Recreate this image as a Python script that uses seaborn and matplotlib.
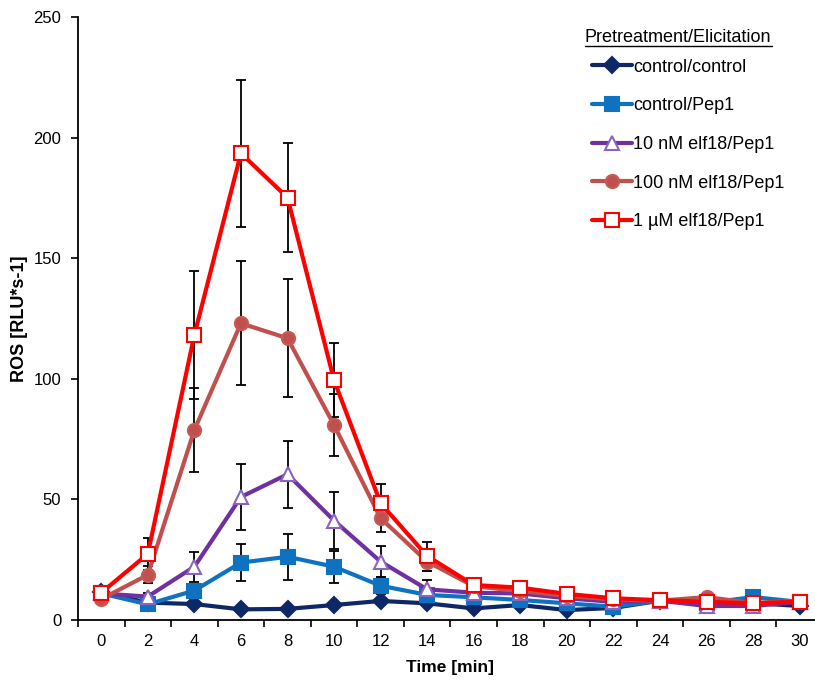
import matplotlib
matplotlib.use("Agg")
import matplotlib.pyplot as plt
from matplotlib.lines import Line2D
from matplotlib.transforms import IdentityTransform
import numpy as np
import seaborn as sns

# ROS burst time course (mean +/- error) for the pretreatment/elicitation combinations
time_min = [0, 2, 4, 6, 8, 10, 12, 14, 16, 18, 20, 22, 24, 26, 28, 30]

control_control = [11.5, 7.2, 6.6, 4.4, 4.6, 6.2, 7.9, 6.9, 4.8, 6.2, 4.1, 5.0, 8.0, 7.0, 7.0, 5.8]
control_pep1 = [11.0, 6.5, 12.2, 23.8, 26.2, 22.1, 14.2, 10.4, 9.4, 8.3, 6.9, 5.5, 8.0, 7.0, 9.5, 7.5]
elf10_pep1 = [11.0, 9.7, 22.1, 51.0, 60.4, 41.2, 24.2, 12.7, 11.3, 11.0, 9.0, 7.5, 8.0, 5.8, 5.8, 7.5]
elf100_pep1 = [8.7, 18.7, 78.8, 123.0, 116.8, 80.8, 42.2, 24.2, 14.0, 12.0, 10.0, 8.5, 8.0, 9.5, 7.0, 8.0]
elf1000_pep1 = [11.3, 27.4, 118.2, 193.5, 175.1, 99.4, 48.4, 26.5, 14.5, 13.4, 10.8, 9.0, 8.2, 7.5, 6.9, 7.6]

err_control_control = [0.8, 0.8, 1.0, 0.9, 0.9, 1.0, 1.0, 0.9, 0.8, 0.8, 0.8, 0.8, 0.8, 0.8, 0.8, 0.8]
err_control_pep1 = [1.0, 1.0, 2.5, 7.7, 9.6, 6.6, 3.5, 2.0, 1.5, 1.0, 1.0, 1.0, 1.0, 1.0, 1.0, 1.0]
err_elf10_pep1 = [1.0, 1.5, 6.2, 13.5, 13.8, 11.8, 6.5, 3.9, 2.0, 1.5, 1.0, 1.0, 1.0, 1.0, 1.0, 1.0]
err_elf100_pep1 = [1.0, 3.5, 17.5, 25.7, 24.4, 12.9, 5.9, 4.0, 2.0, 1.5, 1.0, 1.0, 1.0, 1.5, 1.0, 1.0]
err_elf1000_pep1 = [1.0, 6.5, 26.5, 30.5, 22.5, 15.4, 7.9, 6.0, 2.5, 2.0, 1.5, 1.0, 1.0, 1.0, 1.0, 1.0]

legend_title = "Pretreatment/Elicitation"
labels = ["control/control", "control/Pep1", "10 nM elf18/Pep1",
          "100 nM elf18/Pep1", "1 \u00b5M elf18/Pep1"]
series = [control_control, control_pep1, elf10_pep1, elf100_pep1, elf1000_pep1]
errors = [err_control_control, err_control_pep1, err_elf10_pep1,
          err_elf100_pep1, err_elf1000_pep1]

line_colors = ["#0E2766", "#0E72C0", "#7030A0", "#C0504D", "#FF0000"]
markers = ["D", "s", "^", "o", "s"]
face_colors = ["#0E2766", "#0E72C0", "white", "#C0504D", "white"]
edge_colors = ["#0E2766", "#0E72C0", "#8A64C0", "#C55A57", "#FF0000"]
marker_sizes = [8.5, 10, 10, 9.5, 10]

sns.set_style("white")
plt.rcParams["font.family"] = ["Liberation Sans", "DejaVu Sans"]
plt.rcParams.update({"text.color": "black", "axes.labelcolor": "black",
                     "xtick.color": "black", "ytick.color": "black"})

fig = plt.figure(figsize=(8.15, 6.81), dpi=100)
ax = fig.add_axes([0.0957, 0.0896, 0.914, 0.8855])

# error bars sit underneath the lines and markers
for vals, errs in zip(series, errors):
    ax.errorbar(time_min, vals, yerr=errs, fmt="none", ecolor="black",
                elinewidth=1.3, capsize=3.3, capthick=1.3, zorder=1)

for i, (vals, lab) in enumerate(zip(series, labels)):
    sns.lineplot(x=time_min, y=vals, ax=ax, color=line_colors[i], linewidth=3,
                 marker=markers[i], markersize=marker_sizes[i],
                 markerfacecolor=face_colors[i], markeredgecolor=edge_colors[i],
                 markeredgewidth=1.5, label=lab, zorder=2 + i)

ax.set_xlim(-1, 31)
ax.set_ylim(0, 250)
ax.set_xticks(time_min)
ax.set_xticks(np.arange(-1, 32, 2), minor=True)
ax.set_yticks([0, 50, 100, 150, 200, 250])
ax.tick_params(axis="x", which="major", length=0, pad=10, labelsize=12,
               labelcolor="black")
ax.tick_params(axis="x", which="minor", length=5, width=1.2, direction="out",
               bottom=True, color="black")
ax.tick_params(axis="y", which="major", length=5, width=1.2, direction="out",
               left=True, labelsize=12, pad=7, color="black", labelcolor="black")

for side in ["top", "right"]:
    ax.spines[side].set_visible(False)
for side in ["left", "bottom"]:
    ax.spines[side].set_color("black")
    ax.spines[side].set_linewidth(1.3)

ax.set_xlabel("Time [min]", fontsize=12.5, fontweight="bold", labelpad=8,
              color="black")
ax.set_ylabel("ROS [RLU*s-1]", fontsize=13, fontweight="bold", labelpad=4,
              color="black")

leg = ax.legend(loc="upper left", bbox_to_anchor=(0.668, 0.958),
                frameon=False, fontsize=13, labelspacing=1.2,
                handlelength=2.2, handletextpad=0.1, borderaxespad=0.5)
for txt in leg.get_texts():
    txt.set_color("black")

# underlined legend heading
title = fig.text(585 / 815, 1 - 38 / 681, legend_title, fontsize=13,
                 ha="left", va="center", color="black")
fig.canvas.draw()
bb = title.get_window_extent()
fig.add_artist(Line2D([bb.x0, bb.x1], [bb.y0 + 1, bb.y0 + 1],
                      transform=IdentityTransform(), color="black", linewidth=1.0))

fig.savefig("out.png", dpi=100)
